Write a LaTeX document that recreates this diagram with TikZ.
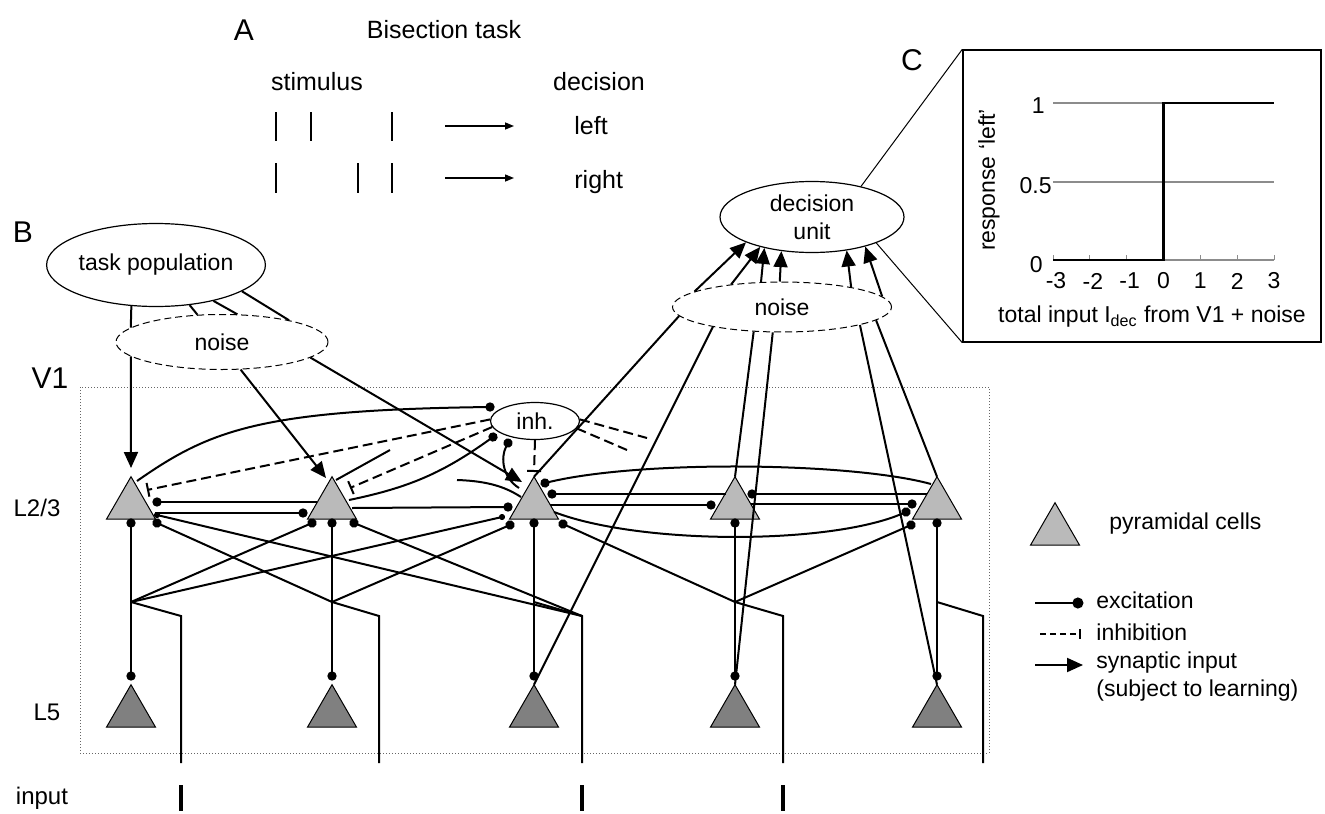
\documentclass[tikz,border=0pt]{standalone}
\usepackage{fontspec}
\setmainfont{Liberation Sans}
\usepackage{tikz}
\usetikzlibrary{positioning,calc,shapes.geometric,arrows.meta}

\begin{document}
\begin{tikzpicture}[x=0.5pt, y=-0.5pt,
every node/.style={font=\fontsize{11.5}{14}\selectfont},
panel/.style={font=\fontsize{15}{17}\selectfont},
tasktext/.style={font=\fontsize{12.5}{15}\selectfont},
unit/.style={ellipse, draw=black, line width=0.6pt, fill=white, inner sep=0pt},
noisy/.style={ellipse, draw=black, line width=0.5pt, dash pattern=on 3.5pt off 2pt, inner sep=0pt},
pyr/.style={regular polygon, regular polygon sides=3, minimum size=28.3pt, inner sep=0pt, outer sep=0pt, draw=black, line width=0.5pt, fill=black!27},
deep/.style={pyr, fill=black!50},
wire/.style={line width=1pt},
exc/.style={wire, -{Circle[length=4.6pt]}, shorten >=-2.3pt},
excs/.style={wire, -{Circle[length=3pt]}, shorten >=-1.5pt},
pair/.style={wire, {Circle[length=4.6pt]}-{Circle[length=4.6pt]}, shorten <=-2.3pt, shorten >=-2.3pt},
inhdash/.style={wire, dash pattern=on 5pt off 2.5pt},
inhib/.style={inhdash, -{Bar[width=7pt]}},
syn/.style={wire, -{Triangle[length=8pt,width=7pt]}},
synsmall/.style={line width=0.7pt, -{Triangle[length=4.5pt,width=3.5pt]}}
]
\useasboundingbox (0,0) rectangle (1325,813);

% A: bisection task
\node[panel](panA) at (244,30) {A};
\node[tasktext](title) at (444,30) {Bisection task};
\node[tasktext](stim) at (317,82) {stimulus};
\node[tasktext](dec) at (599,82) {decision};
\node[tasktext, anchor=west, inner sep=0pt](left) at (574,126) {left};
\node[tasktext, anchor=west, inner sep=0pt](right) at (574,182) {right};
\foreach \x in {276,311,392} \draw[line width=1.1pt] (\x,112) -- (\x,141);
\foreach \x in {276,358,392} \draw[line width=1.1pt] (\x,163) -- (\x,193);
\draw[synsmall] ($(left.west)+(-129,0)$) -- ($(left.west)+(-60,0)$);
\draw[synsmall] ($(right.west)+(-129,-4)$) -- ($(right.west)+(-60,-4)$);

% B: network
\node[panel](panB) at (23,232) {B};
\node[panel](v1) at (50,378) {V1};
\node[font=\fontsize{12}{14}\selectfont](l23) at (37,508) {L2/3};
\node[font=\fontsize{12}{14}\selectfont](l5) at (47,712) {L5};
\node[font=\fontsize{12}{14}\selectfont](inp) at (42,798) {input};
\draw[densely dotted, black!60, line width=0.5pt] (80,387) rectangle (989,753);

\node[unit, minimum width=97pt, minimum height=41.5pt](task) at (156,265) {task population};
\node[noisy, minimum width=106pt, minimum height=27.5pt](noiseL) at (222,342) {noise};
\node[unit, minimum width=44.5pt, minimum height=18.5pt](inh) at (535,421) {inh.};
\node[unit, minimum width=92pt, minimum height=35.5pt, align=center](decu) at (812,217) {decision\\unit};
\node[noisy, minimum width=109.5pt, minimum height=25pt](noiseR) at (782,307) {noise};

\node[pyr](p1) at (131,505) {};
\node[pyr](p2) at (332,505) {};
\node[pyr](p3) at (534,505) {};
\node[pyr](p4) at (735,505) {};
\node[pyr](p5) at (937,505) {};
\node[deep](q1) at (131,713) {};
\node[deep](q2) at (332,713) {};
\node[deep](q3) at (534,713) {};
\node[deep](q4) at (735,713) {};
\node[deep](q5) at (937,713) {};

\coordinate (stray2) at (390,450);
\coordinate (stray3) at (457,480);
\coordinate (free1) at (647,438);
\coordinate (free2) at (627,450);

% task population and noise
\draw[wire] (task.239) -- (noiseL.171);
\draw[wire] (task.310) -- (noiseL.132);
\draw[wire] (task.328) -- (noiseL.61);
\draw[wire] (task.343) -- (noiseL.18);
\draw[syn] (noiseL.189) -- ($(p1)+(0,-37)$);
\draw[syn] (noiseL.304) -- ($(p2)+(-6,-27)$);
\draw[syn] (noiseL.350) -- ($(p3)+(-12,-23)$);

% inhibitory unit
\draw[exc] ($(p1)+(6,-24)$) .. controls (210,430) and (260,410) .. ($(inh)+(-45,-14)$);
\draw[inhib] (inh.178) -- ($(p1)+(16,-15)$);
\draw[inhib] (inh.188) -- ($(p2)+(18,-17)$);
\draw[exc] ($(p2)+(17,-5)$) to[bend right=12] ($(inh)+(-42,16)$);
\draw[wire] ($(p2)+(4,-25)$) -- (stray2);
\draw[inhib] (inh.south) -- ($(p3)+(0,-33)$);
\draw[inhdash] (inh.2) -- (free1);
\draw[inhdash] (inh.350) -- (free2);
\draw[exc] ($(p3)+(-15,-17)$) .. controls (503,478) and (500,458) .. ($(inh)+(-27,22)$);
\draw[wire] (stray3) .. controls (490,481) and (507,488) .. ($(p3)+(-13,-8)$);

% lateral connections in L2/3
\draw[exc] ($(p2)+(-15,-3)$) -- ($(p1)+(26,-3)$);
\draw[exc] ($(p1)+(24,8)$) -- ($(p2)+(-29,8)$);
\draw[exc] ($(p2)+(20,3)$) -- ($(p3)+(-26,2)$);
\draw[exc] ($(p5)+(-6,-21)$) .. controls (850,462) and (640,460) .. ($(p3)+(11,-22)$);
\draw[exc] ($(p4)+(-9,-11)$) -- ($(p3)+(18,-11)$);
\draw[exc] ($(p5)+(-10,-11)$) -- ($(p4)+(17,-11)$);
\draw[exc] ($(p3)+(16,0)$) -- ($(p4)+(-24,0)$);
\draw[exc] ($(p4)+(16,-1)$) -- ($(p5)+(-25,-1)$);
\draw[exc] ($(p3)+(20,7)$) .. controls (640,545) and (830,545) .. ($(p5)+(-31,7)$);

% columns and input
\foreach \i/\x/\xin in {1/131/181, 2/332/379, 3/534/582, 4/735/783, 5/937/983} {
  \coordinate (j\i) at (\x,602);
  \coordinate (c\i) at (\xin,616);
  \coordinate (e\i) at (\xin,763);
  \draw[pair] ($(p\i)+(0,18)$) -- ($(q\i)+(0,-37)$);
  \draw[wire] (j\i) -- (c\i) -- (e\i);
}
\draw[exc] (j1) -- ($(p2)+(-20,18)$);
\draw[excs] (j1) -- ($(p3)+(-32,12)$);
\draw[exc] (j2) -- ($(p1)+(26,18)$);
\draw[exc] (j2) -- ($(p3)+(-24,20)$);
\draw[excs] (c3) -- ($(p1)+(26,10)$);
\draw[exc] (c3) -- ($(p2)+(22,18)$);
\draw[exc] (j4) -- ($(p3)+(29,19)$);
\draw[exc] (j4) -- ($(p5)+(-26,20)$);
\foreach \x in {181,582,783} \draw[line width=2pt] (\x,785) -- (\x,811);

% to the decision unit
\draw[wire] (p3.corner 1) -- (noiseR.185);
\draw[syn] (noiseR.170) -- (decu.201);
\draw[wire] (q3.corner 1) -- (noiseR.196);
\draw[syn] (noiseR.156) -- (decu.210);
\draw[wire] (p4.corner 1) -- (noiseR.221);
\draw[syn] (noiseR.130) -- (decu.213);
\draw[wire] (q4.corner 1) -- (noiseR.250);
\draw[syn] (noiseR.95) -- (decu.228);
\draw[wire] (q5.corner 1) -- (noiseR.347);
\draw[syn] (noiseR.16) -- (decu.316);
\draw[wire] (p5.corner 1) -- (noiseR.352);
\draw[syn] (noiseR.6) -- (decu.331);

% legend
\node[pyr](legpyr) at (1055,531) {};
\node[anchor=west, inner sep=0pt](legpyrtext) at (1109,524) {pyramidal cells};
\node[anchor=west, inner sep=0pt](legexc) at (1096,600) {excitation};
\node[anchor=west, inner sep=0pt](leginh) at (1096,632) {inhibition};
\node[anchor=west, inner sep=0pt, align=left](legsyn) at (1096,677) {synaptic input\\(subject to learning)};
\draw[wire, -{Circle[length=5.5pt]}, shorten >=-2.7pt] ($(legexc.west)+(-61,3)$) -- ($(legexc.west)+(-18,3)$);
\draw[wire, dash pattern=on 3pt off 2pt, -{Bar[width=5pt]}] ($(leginh.west)+(-56,2)$) -- ($(leginh.west)+(-15,2)$);
\draw[syn] ($(legsyn.west)+(-61,-12)$) -- ($(legsyn.west)+(-13,-12)$);

% C: response of the decision unit
\node[panel](panC) at (912,60) {C};
\node[draw, line width=0.7pt, minimum width=179pt, minimum height=146pt, inner sep=0pt](plot) at (1142,196) {};
\draw[line width=0.5pt] (decu.32) -- (plot.north west);
\draw[line width=0.5pt] (decu.338) -- (plot.south west);
\draw[black!45, line width=0.6pt] (1053,103) -- (1274,103);
\draw[black!45, line width=0.6pt] (1053,182) -- (1274,182);
\draw[black!45, line width=0.6pt] (1053,260) -- (1274,260);
\foreach \v in {-3,...,3} {
  \draw[black!45, line width=0.5pt] ({1163.5+36.83*\v},260) -- ++(0,-5);
  \node at ({1163.5+36.83*\v+(\v<0?3:0)},281) {\v};
}
\draw[line width=1.3pt] (1053,260) -- (1163.5,260) -- (1163.5,103) -- (1274,103);
\node[anchor=east, inner sep=0pt] at (1045,106) {1};
\node[anchor=east, inner sep=0pt] at (1052,186) {0.5};
\node[anchor=east, inner sep=0pt] at (1043,265) {0};
\node[rotate=90](ylab) at (989,180) {response `left'};
\node(xlab) at (1152,317) {total input I\textsubscript{dec} from V1 + noise};
\end{tikzpicture}
\end{document}
